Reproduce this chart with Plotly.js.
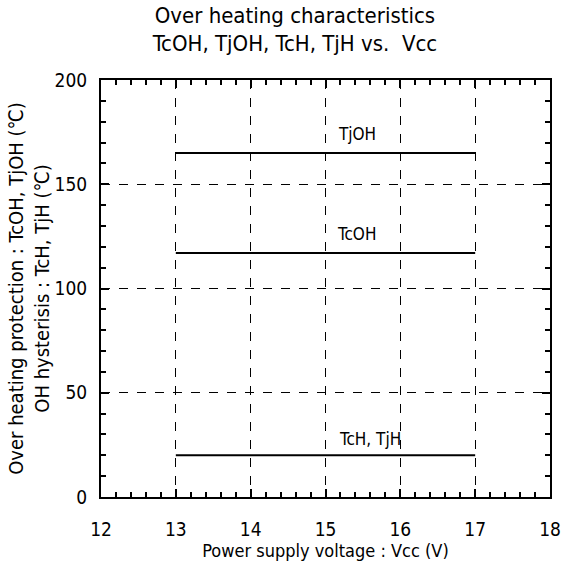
<!DOCTYPE html>
<html><head><meta charset="utf-8">
<script src="https://cdn.plot.ly/plotly-3.0.1.min.js"></script>
<style>html,body{margin:0;padding:0;background:#fff}</style>
</head><body>
<div id="chart" style="width:575px;height:567px"></div>
<script>
const seriesNames = ["TjOH", "TcOH", "TcH, TjH"];
const vcc = [13, 17];
const tjOH = [165, 165];
const tcOH = [117, 117];
const tcH = [20, 20];
const labelX = [15.42, 15.42, 15.6];
const labelY = [174, 126, 28];
const xTicks = [12, 13, 14, 15, 16, 17, 18];
const yTicks = [0, 50, 100, 150, 200];

const F = '"DejaVu Sans Condensed", "Liberation Sans Narrow", "DejaVu Sans", sans-serif';
const ys = [tjOH, tcOH, tcH];
const traces = ys.map((y, i) => ({
  x: vcc, y: y, mode: 'lines', type: 'scatter', name: seriesNames[i],
  line: {color: '#000', width: 2}, showlegend: false, hoverinfo: 'none'
}));
const annotations = seriesNames.map((n, i) => ({
  x: labelX[i], y: labelY[i], text: n, showarrow: false,
  font: {family: F, size: 17, color: '#000'}
}));
const axisCommon = {
  showline: true, linecolor: '#000', linewidth: 2, mirror: 'ticks',
  ticks: 'inside', ticklen: 8, tickwidth: 2, tickcolor: '#000',
  showgrid: true, gridcolor: '#000', gridwidth: 1, griddash: 'dash',
  zeroline: false, tickfont: {family: F, size: 19, color: '#000'},
  fixedrange: true
};
const layout = {
  width: 575, height: 567,
  margin: {l: 101, r: 25, t: 80, b: 70},
  paper_bgcolor: '#fff', plot_bgcolor: '#fff',
  title: {text: 'Over heating characteristics<br>TcOH, TjOH, TcH, TjH vs.  Vcc',
          font: {family: F, size: 22, color: '#000'}, x: 0.513, xanchor: 'center', y: 0.96, yanchor: 'top'},
  xaxis: Object.assign({}, axisCommon, {
    range: [12, 18], tickvals: xTicks, ticktext: xTicks.map(String), ticklabelstandoff: 14,
    minor: {dtick: 0.2, ticks: 'inside', ticklen: 5, tickwidth: 2, tickcolor: '#000', showgrid: false},
    title: {text: 'Power supply voltage : Vcc (V)', font: {family: F, size: 18, color: '#000'}, standoff: 2}
  }),
  yaxis: Object.assign({}, axisCommon, {
    range: [0, 200], tickvals: yTicks, ticktext: yTicks.map(String), ticklabelstandoff: 8,
    minor: {dtick: 10, ticks: 'inside', ticklen: 5, tickwidth: 2, tickcolor: '#000', showgrid: false},
    title: {text: 'Over heating protection : TcOH, TjOH (℃)<br>OH hysterisis : TcH, TjH (℃)',
            font: {family: F, size: 20, color: '#000'}, standoff: 0}
  }),
  annotations: annotations
};
Plotly.newPlot('chart', traces, layout, {displayModeBar: false, staticPlot: true});
</script>
</body></html>
